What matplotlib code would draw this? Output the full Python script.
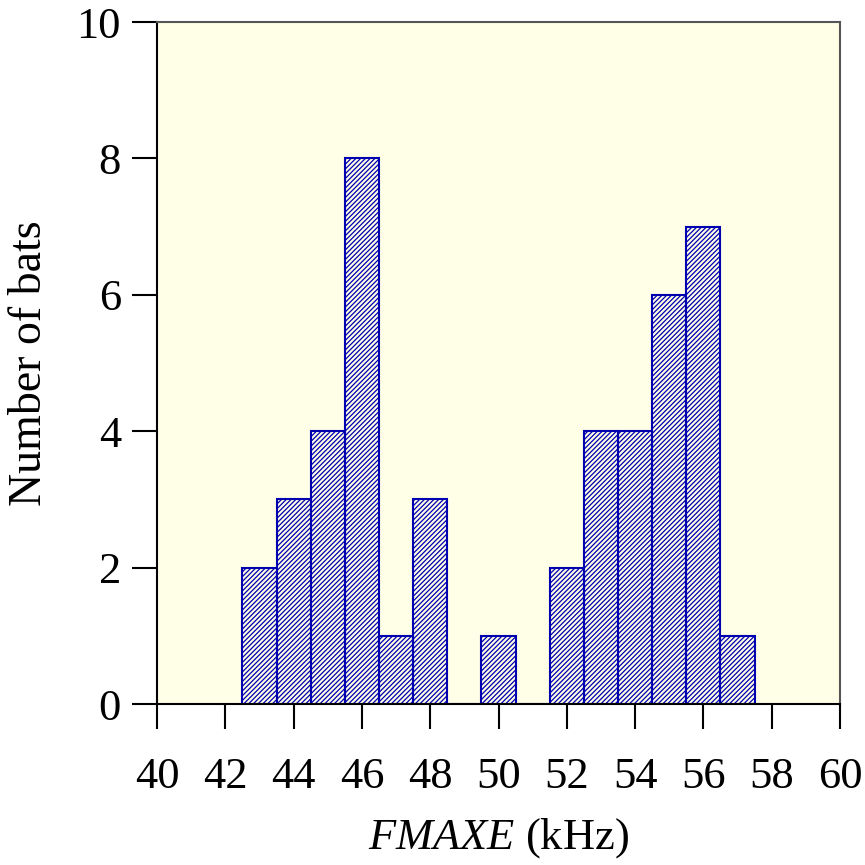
import matplotlib
matplotlib.use("Agg")
import matplotlib.pyplot as plt

# histogram of FMAXE, 1 kHz bins
bin_centres = [43, 44, 45, 46, 47, 48, 49, 50, 51, 52, 53, 54, 55, 56, 57]
counts = [2, 3, 4, 8, 1, 3, 0, 1, 0, 2, 4, 4, 6, 7, 1]

x_ticks = list(range(40, 61, 2))
y_ticks = [0, 2, 4, 6, 8, 10]

plt.rcParams["font.family"] = ["Liberation Serif", "DejaVu Serif"]
plt.rcParams["mathtext.fontset"] = "custom"
plt.rcParams["mathtext.rm"] = "Liberation Serif"
plt.rcParams["mathtext.it"] = "Liberation Serif:italic"
plt.rcParams["hatch.color"] = "#0000b0"
plt.rcParams["hatch.linewidth"] = 0.9

fig = plt.figure(figsize=(8.65, 8.65), dpi=100)
ax = fig.add_axes([157 / 865, 1 - 704 / 865, (840 - 157) / 865, (704 - 22) / 865])
ax.set_facecolor("#fffee6")

ax.bar(
    bin_centres,
    counts,
    width=1.0,
    color="none",
    edgecolor="#0000b0",
    linewidth=1.5,
    hatch="///////",
    zorder=2,
)

ax.set_xlim(40, 60)
ax.set_ylim(0, 10)
ax.set_xticks(x_ticks)
ax.set_yticks(y_ticks)
ax.tick_params(direction="out", length=18, width=1.5, labelsize=32, pad=20)
ax.tick_params(axis="y", pad=8)

for side in ["top", "right"]:
    ax.spines[side].set_color("#555555")
    ax.spines[side].set_linewidth(1.5)
for side in ["left", "bottom"]:
    ax.spines[side].set_color("black")
    ax.spines[side].set_linewidth(1.5)

ax.set_ylabel("Number of bats", fontsize=33, labelpad=18)
ax.set_xlabel(r"$\it{FMAXE}$ (kHz)", fontsize=32, labelpad=14)

fig.savefig("out.png", dpi=100)
